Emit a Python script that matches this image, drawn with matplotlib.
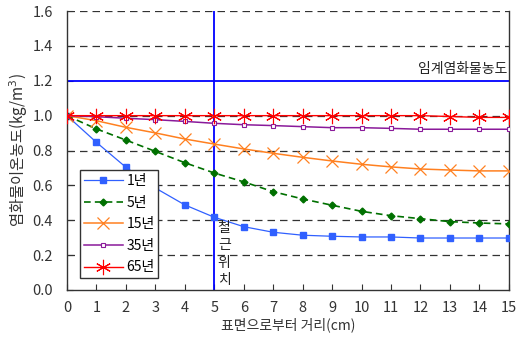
import matplotlib.pyplot as plt

plt.rcParams['font.family'] = ['Noto Sans CJK KR', 'DejaVu Sans']

# ---------------------- DATA ----------------------
distance = list(range(16))

year1 = [1.0, 0.847, 0.704, 0.585, 0.488, 0.417, 0.363, 0.331, 0.314, 0.308,
         0.304, 0.304, 0.298, 0.298, 0.298, 0.298]
year5 = [1.0, 0.924, 0.860, 0.795, 0.730, 0.671, 0.620, 0.564, 0.522, 0.486,
         0.451, 0.426, 0.409, 0.392, 0.384, 0.379]
year15 = [1.0, 0.971, 0.933, 0.901, 0.866, 0.837, 0.809, 0.784, 0.761, 0.740,
          0.721, 0.706, 0.694, 0.688, 0.683, 0.683]
year35 = [1.0, 0.994, 0.985, 0.977, 0.967, 0.956, 0.948, 0.943, 0.937, 0.931,
          0.931, 0.927, 0.922, 0.922, 0.922, 0.922]
year65 = [1.0, 1.0, 1.0, 1.0, 1.0, 1.0, 1.0, 1.0, 1.0, 1.0,
          1.0, 1.0, 1.0, 0.995, 0.99, 0.99]

critical = 1.2
rebar_pos = 5

# ---------------------- PLOT ----------------------
fig = plt.figure(figsize=(5.23, 3.46), dpi=100)
ax = fig.add_axes([0.128, 0.162, 0.845, 0.806])

for y in [0.2, 0.4, 0.6, 0.8, 1.0, 1.4, 1.6]:
    ax.axhline(y, color='#333333', linestyle=(0, (6, 4)), linewidth=0.9, zorder=1)

ax.axhline(critical, color='#0000ff', linewidth=1.3, zorder=2)
ax.axvline(rebar_pos, color='#0000ff', linewidth=1.3, zorder=2)

ax.plot(distance, year1, color='#3060ff', linewidth=0.9, marker='s',
        markersize=5, label='1년', zorder=3)
ax.plot(distance, year5, color='#007000', linewidth=1.2, linestyle=(0, (4, 2.5)),
        marker='D', markersize=3.5, label='5년', zorder=3)
ax.plot(distance, year15, color='#ff8020', linewidth=1.1, marker='x',
        markersize=9, markeredgewidth=0.9, label='15년', zorder=3)
ax.plot(distance, year35, color='#8a1a9a', linewidth=1.1, marker='s',
        markersize=3.5, markerfacecolor='white', markeredgewidth=0.8,
        label='35년', zorder=4)
ax.plot(distance, year65, color='#ff0000', linewidth=1.0, marker=(6, 2, 0),
        markersize=11, markeredgewidth=0.8, label='65년', zorder=5)

ax.text(14.95, 1.225, '임계염화물농도', ha='right', va='bottom', fontsize=10,
        color='#222222')
ax.text(5.12, 0.395, '철\n근\n위\n치', ha='left', va='top', fontsize=10,
        color='#222222', linespacing=1.3)

ax.set_xlim(0, 15)
ax.set_ylim(0, 1.6)
ax.set_xticks(range(16))
ax.set_yticks([0.0, 0.2, 0.4, 0.6, 0.8, 1.0, 1.2, 1.4, 1.6])
ax.set_yticklabels(['0.0', '0.2', '0.4', '0.6', '0.8', '1.0', '1.2', '1.4', '1.6'])
ax.tick_params(direction='in', length=4, labelsize=10.5, colors='#333333')
ax.tick_params(axis='x', pad=8)
ax.tick_params(axis='y', pad=10)

ax.spines['top'].set_visible(False)
for s in ['left', 'bottom', 'right']:
    ax.spines[s].set_color('#333333')
    ax.spines[s].set_linewidth(1.0)

ax.set_xlabel('표면으로부터 거리(cm)', fontsize=10, color='#333333', labelpad=2)
ax.set_ylabel('염화물이온농도(kg/m$^3$)', fontsize=11, color='#333333', labelpad=2)

leg = ax.legend(loc='lower left', bbox_to_anchor=(0.03, 0.043), fontsize=10,
                fancybox=False, framealpha=1, edgecolor='#333333',
                handlelength=2.8, borderpad=0.25, labelspacing=0.55,
                handletextpad=0.3, borderaxespad=0)
leg.get_frame().set_linewidth(1.0)
leg.set_zorder(10)

plt.savefig('out.png', dpi=100)
